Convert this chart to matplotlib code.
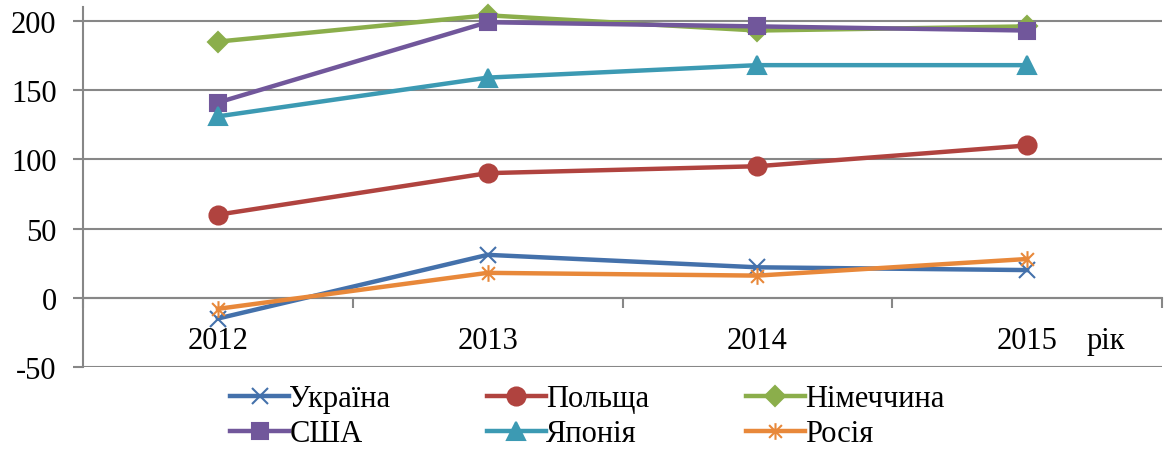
import matplotlib.pyplot as plt
from matplotlib.path import Path
from matplotlib.transforms import offset_copy

plt.rcParams['font.family'] = ['Liberation Serif', 'DejaVu Serif']
plt.rcParams['axes.unicode_minus'] = False

years = ['2012', '2013', '2014', '2015']
ukraine = [-15, 31, 22, 20]
poland = [60, 90, 95, 110]
germany = [185, 204, 193, 196]
usa = [141, 199, 196, 193]
japan = [131, 159, 168, 168]
russia = [-8, 18, 16, 28]

# excel-like "star" marker: x with a vertical bar
star = Path([(-1, -1), (1, 1), (-1, 1), (1, -1), (0, -1.3), (0, 1.3)],
            [Path.MOVETO, Path.LINETO, Path.MOVETO, Path.LINETO, Path.MOVETO, Path.LINETO])

series = [
    ('Україна', ukraine, '#4471AB', 'x', 12),
    ('Польща', poland, '#B0433F', 'o', 13),
    ('Німеччина', germany, '#8BAE4B', 'D', 10),
    ('США', usa, '#71579B', 's', 11),
    ('Японія', japan, '#3C9AB3', '^', 13),
    ('Росія', russia, '#E8883A', star, 12),
]

fig = plt.figure(figsize=(11.65, 4.52), dpi=100)
ax = fig.add_axes([83 / 1165, 1 - 368 / 452, (1162 - 83) / 1165, 360 / 452])

x = range(len(years))
lines = {}
for name, vals, col, mk, ms in series:
    ln, = ax.plot(x, vals, color=col, lw=3.2, marker=mk, ms=ms, mew=1.5,
                  label=name, zorder=3, clip_on=False)
    lines[name] = ln

ax.set_xlim(-0.5, 3.5)
ax.set_ylim(-50, 210)
ax.set_yticks([-50, 0, 50, 100, 150, 200])
ax.yaxis.grid(True, color='#878787', lw=1.5)
ax.set_axisbelow(True)

for s in ['top', 'right']:
    ax.spines[s].set_visible(False)
ax.spines['left'].set_color('#878787')
ax.spines['left'].set_linewidth(1.5)
ax.spines['bottom'].set_position(('data', 0))
ax.spines['bottom'].set_color('#878787')
ax.spines['bottom'].set_linewidth(1.5)

ax.set_xticks(list(x))
ax.set_xticklabels(years)
ax.set_xticks([-0.5, 0.5, 1.5, 2.5, 3.5], minor=True)
ax.tick_params(axis='x', which='major', length=0, pad=20, labelsize=22)
ax.tick_params(axis='x', which='minor', length=7, width=1.5, color='#878787', direction='out')
ax.tick_params(axis='y', length=7, width=1.5, color='#878787', pad=12, labelsize=22)

tr = offset_copy(ax.transData, fig=fig, x=0, y=-20, units='points')
ax.text(3.22, 0, 'рік', transform=tr, va='top', ha='left', fontsize=22)

# legend filled column by column, so order gives rows
order = ['Україна', 'США', 'Польща', 'Японія', 'Німеччина', 'Росія']
fig.legend([lines[n] for n in order], order, loc='upper center',
           bbox_to_anchor=(0.504, 1 - 370 / 452), ncol=3,
           frameon=False, fontsize=22, handlelength=1.95, handletextpad=0.0,
           columnspacing=3.15, labelspacing=0.2, borderpad=0)

fig.savefig('out.png', dpi=100)
